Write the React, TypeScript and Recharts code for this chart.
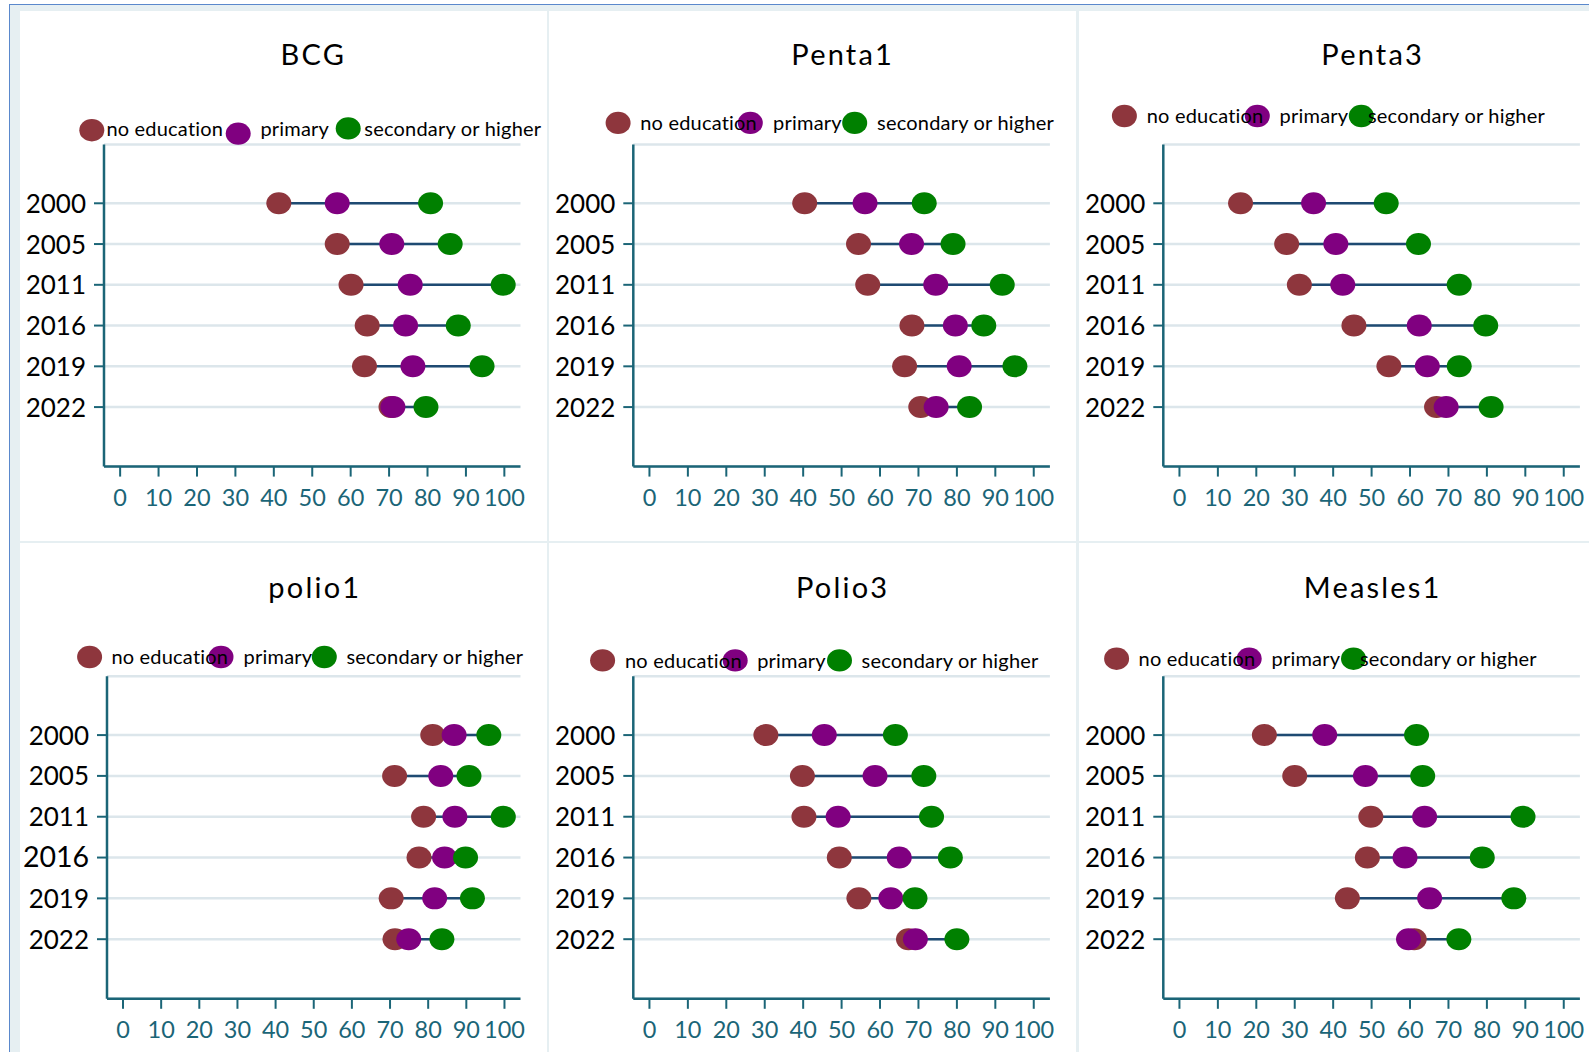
import React from 'react';
import { ScatterChart, Scatter, XAxis, YAxis, CartesianGrid, ReferenceLine } from 'recharts';

// survey years (rows, top to bottom)
const years = ['2000', '2005', '2011', '2016', '2019', '2022'];
const groupLabels = ['no education', 'primary', 'secondary or higher'];
const xTicks = [0, 10, 20, 30, 40, 50, 60, 70, 80, 90, 100];
const vaccines = ['BCG', 'Penta1', 'Penta3', 'polio1', 'Polio3', 'Measles1'];

// coverage (%) by mother's education
const bcgNoEdu = [41.3, 56.5, 60.1, 64.3, 63.6, 70.5];
const bcgPrimary = [56.5, 70.7, 75.5, 74.3, 76.2, 71.0];
const bcgSecondary = [80.8, 85.9, 99.7, 88.0, 94.2, 79.6];

const penta1NoEdu = [40.4, 54.4, 56.8, 68.3, 66.4, 70.6];
const penta1Primary = [56.1, 68.2, 74.5, 79.6, 80.6, 74.6];
const penta1Secondary = [71.5, 79.0, 91.8, 87.0, 95.1, 83.3];

const penta3NoEdu = [15.9, 27.9, 31.2, 45.4, 54.5, 66.9];
const penta3Primary = [34.9, 40.7, 42.5, 62.4, 64.5, 69.4];
const penta3Secondary = [53.8, 62.2, 72.8, 79.7, 72.8, 81.1];

const polio1NoEdu = [81.2, 71.2, 78.8, 77.6, 70.3, 71.3];
const polio1Primary = [86.8, 83.3, 87.0, 84.3, 81.7, 74.9];
const polio1Secondary = [95.9, 90.7, 99.7, 89.8, 91.6, 83.6];

const polio3NoEdu = [30.3, 39.8, 40.2, 49.4, 54.5, 67.4];
const polio3Primary = [45.5, 58.7, 49.1, 65.0, 62.8, 69.2];
const polio3Secondary = [64.0, 71.4, 73.4, 78.3, 69.1, 80.0];

const measles1NoEdu = [22.1, 30.0, 49.8, 48.9, 43.7, 61.1];
const measles1Primary = [37.8, 48.4, 63.8, 58.7, 65.1, 59.6];
const measles1Secondary = [61.7, 63.3, 89.4, 78.8, 87.0, 72.7];

const COLORS = ['#8e363d', '#800080', '#008000'];
const TEAL = '#1b6577';
const NAVY = '#1e4a72';
const GRID = '#dce6eb';
const FONT = 'Lato, "Open Sans", sans-serif';

// panel layout in page pixels
const panels = [
  { series: [bcgNoEdu, bcgPrimary, bcgSecondary], box: [20, 11, 546.7, 540.7], plot: [104, 520.5, 144.6, 466.6],
    titleY: 65.4, dots: [[91.8, 130.2], [238.2, 133.6], [348.2, 128.4]], labelsX: [106.4, 260.4, 364.3], labelY: 136.2 },
  { series: [penta1NoEdu, penta1Primary, penta1Secondary], box: [548.7, 11, 1076, 540.7], plot: [633, 1049.6, 144.6, 466.6],
    titleY: 65.4, dots: [[617.8, 122.9], [750, 122.9], [854.4, 122.9]], labelsX: [639.9, 772.8, 876.8], labelY: 130.4 },
  { series: [penta3NoEdu, penta3Primary, penta3Secondary], box: [1078.7, 11, 1589, 540.7], plot: [1163, 1579.6, 144.6, 466.6],
    titleY: 65.4, dots: [[1124.1, 116], [1257, 116], [1361, 116]], labelsX: [1146.4, 1279.3, 1367.7], labelY: 123.2 },
  { series: [polio1NoEdu, polio1Primary, polio1Secondary], box: [20, 542.7, 546.7, 1052], plot: [107, 520.5, 676, 998.5],
    titleY: 597.4, dots: [[89.6, 656.7], [221, 656.7], [324.3, 656.7]], labelsX: [111.4, 243.6, 346.4], labelY: 664, bigTick: 3 },
  { series: [polio3NoEdu, polio3Primary, polio3Secondary], box: [548.7, 542.7, 1076, 1052], plot: [633, 1049.6, 676, 998.5],
    titleY: 597.4, dots: [[602.3, 660.1], [734.9, 660.1], [839.2, 660.1]], labelsX: [624.7, 756.9, 861.3], labelY: 667.4 },
  { series: [measles1NoEdu, measles1Primary, measles1Secondary], box: [1078.7, 542.7, 1589, 1052], plot: [1163, 1579.6, 676, 998.5],
    titleY: 597.4, dots: [[1116.3, 658.4], [1248.9, 658.4], [1353.2, 658.4]], labelsX: [1138.3, 1271.2, 1359.6], labelY: 665.7 },
];

const Dot = (props: any) => {
  const { cx, cy, fill } = props;
  if (cx == null || cy == null) return null;
  return <ellipse cx={cx} cy={cy} rx={12.5} ry={11} fill={fill} />;
};

const YearTick = ({ x, y, payload, big }: any) => (
  <text x={x} y={y} dy={9.5} textAnchor="end" fontSize={big === payload.value ? 28.5 : 26} fill="#000" fontFamily={FONT}>
    {years[payload.value]}
  </text>
);

const Panel = ({ idx }: { idx: number }) => {
  const p = panels[idx];
  const [bx0, by0, bx1, by1] = p.box;
  const [pl, pr, pt, pb] = p.plot;
  const w = bx1 - bx0;
  const h = by1 - by0;
  const rows = years.map((_, i) => {
    const vals = p.series.map((s) => s[i]);
    return { row: i, lo: Math.min(...vals), hi: Math.max(...vals) };
  });
  return (
    <div style={{ position: 'absolute', left: bx0, top: by0, width: w, height: h, background: '#fff' }}>
      <ScatterChart width={w} height={h} margin={{ top: pt - by0, right: bx1 - pr, bottom: 0, left: 0 }}>
        <CartesianGrid vertical={false} stroke={GRID} strokeWidth={2.5} />
        <XAxis
          type="number"
          dataKey="x"
          domain={[-4.2, 104.2]}
          ticks={xTicks}
          allowDataOverflow
          height={by1 - pb}
          stroke={TEAL}
          axisLine={{ stroke: TEAL, strokeWidth: 2.5 }}
          tickLine={{ stroke: TEAL, strokeWidth: 2 }}
          tickSize={10}
          tickMargin={13}
          tick={{ fill: TEAL, fontSize: 23.5, fontFamily: FONT }}
          interval={0}
        />
        <YAxis
          type="number"
          dataKey="y"
          domain={[-1.44, 6.46]}
          reversed
          ticks={[0, 1, 2, 3, 4, 5]}
          allowDataOverflow
          width={pl - bx0}
          axisLine={{ stroke: TEAL, strokeWidth: 2.5 }}
          tickLine={{ stroke: TEAL, strokeWidth: 2 }}
          tickSize={10}
          tickMargin={8}
          tick={<YearTick big={p.bigTick} />}
          interval={0}
        />
        {rows.map((r) => (
          <ReferenceLine
            key={r.row}
            segment={[{ x: r.lo, y: r.row }, { x: r.hi, y: r.row }]}
            stroke={NAVY}
            strokeWidth={2.5}
          />
        ))}
        {p.series.map((s, g) => (
          <Scatter
            key={g}
            data={s.map((v, i) => ({ x: v, y: i }))}
            fill={COLORS[g]}
            shape={<Dot />}
            isAnimationActive={false}
          />
        ))}
      </ScatterChart>
      <svg
        width={w}
        height={h}
        style={{ position: 'absolute', left: 0, top: 0, pointerEvents: 'none', overflow: 'visible' }}
      >
        <text
          x={(pl + pr) / 2 - bx0 + 1.1}
          y={p.titleY - by0}
          textAnchor="middle"
          fontSize={29}
          letterSpacing={2.2}
          fontFamily={FONT}
          fill="#000"
        >
          {vaccines[idx]}
        </text>
        {/* markers first, labels drawn over them */}
        {groupLabels.map((lab, g) => (
          <ellipse key={lab} cx={p.dots[g][0] - bx0} cy={p.dots[g][1] - by0} rx={12.5} ry={11.2} fill={COLORS[g]} />
        ))}
        {groupLabels.map((lab, g) => (
          <text
            key={lab}
            x={p.labelsX[g] - bx0}
            y={p.labelY - by0}
            fontSize={20}
            letterSpacing={0.2}
            fontFamily={FONT}
            fill="#000"
          >
            {lab}
          </text>
        ))}
      </svg>
    </div>
  );
};

export default function App() {
  return (
    <div style={{ position: 'absolute', left: 0, top: 0, width: 1589, height: 1052, background: '#fff', overflow: 'hidden' }}>
      <div
        style={{
          position: 'absolute',
          left: 9,
          top: 4,
          right: 0,
          bottom: 0,
          background: '#e6eff2',
          borderLeft: '1.5px solid #5a88cc',
          borderTop: '1.5px solid #5a88cc',
        }}
      />
      {panels.map((_, i) => (
        <Panel key={i} idx={i} />
      ))}
    </div>
  );
}
